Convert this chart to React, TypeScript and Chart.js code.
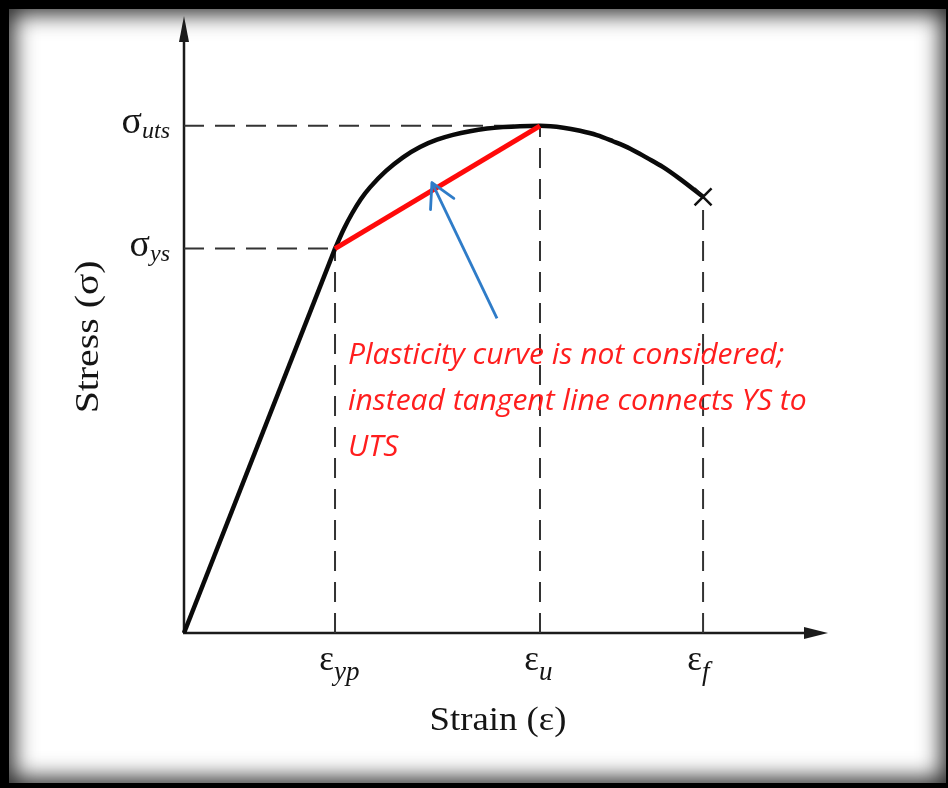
import React, { useEffect, useRef } from 'react';
import { Chart, registerables } from 'chart.js';

Chart.register(...registerables);

// ---- key values (arbitrary units: strain 0-100, stress 0-100) ----
const epsYP = 23.45;
const epsU = 55.28;
const epsF = 80.6;
const sigYS = 62.3;
const sigUTS = 82.2;
const sigF = 70.7;

// plastic curve (yield -> UTS -> fracture)
const curveStrain = [23.45, 24.84, 26.09, 27.48, 28.88, 31.37, 34.01, 36.65, 39.29, 41.77, 44.41, 47.05, 49.53, 52.17, 55.28, 58.9, 61.5, 64.1, 66.6, 69.3, 71.9, 74.4, 77.0, 80.6];
const curveStress = [62.3, 65.52, 67.99, 70.34, 72.22, 74.89, 77.1, 78.77, 79.95, 80.73, 81.33, 81.75, 81.99, 82.14, 82.2, 81.9, 81.4, 80.7, 79.7, 78.5, 77.0, 75.5, 73.6, 70.7];

// blue pointer arrow (tail -> head)
const arrowStrain = [48.6, 38.5];
const arrowStress = [51.0, 73.0];

const strainTickValues = [epsYP, epsU, epsF];
const strainTickSubs = ['yp', 'u', 'f'];
const stressTickValues = [sigUTS, sigYS];
const stressTickSubs = ['uts', 'ys'];

const xTitle = 'Strain (ε)';
const yTitle = 'Stress (σ)';
const noteLines = ['Plasticity curve is not considered;', 'instead tangent line connects YS to', 'UTS'];

const AXIS = '#1b1b1b';
const SERIF = '"Liberation Serif", "Times New Roman", serif';

const pts = (xs: number[], ys: number[]) => xs.map((x, i) => ({ x, y: ys[i] }));

const decor = {
  id: 'decor',
  beforeDatasetsDraw(chart: any) {
    const { ctx, scales } = chart;
    const x = scales.x, y = scales.y;
    const x0 = x.getPixelForValue(0), y0 = y.getPixelForValue(0);
    const xEnd = x.getPixelForValue(x.max), yEnd = y.getPixelForValue(y.max);
    ctx.save();
    ctx.strokeStyle = AXIS;
    ctx.fillStyle = AXIS;
    ctx.lineWidth = 2.5;
    ctx.beginPath();
    ctx.moveTo(x0, y0);
    ctx.lineTo(x0, yEnd + 18);
    ctx.moveTo(x0 - 1, y0);
    ctx.lineTo(xEnd - 18, y0);
    ctx.stroke();
    // arrowheads
    ctx.beginPath();
    ctx.moveTo(x0, yEnd);
    ctx.lineTo(x0 - 5, yEnd + 26);
    ctx.lineTo(x0 + 5, yEnd + 26);
    ctx.closePath();
    ctx.fill();
    ctx.beginPath();
    ctx.moveTo(xEnd, y0);
    ctx.lineTo(xEnd - 24, y0 - 6);
    ctx.lineTo(xEnd - 24, y0 + 6);
    ctx.closePath();
    ctx.fill();
    ctx.restore();
  },
  afterDraw(chart: any) {
    const { ctx, scales } = chart;
    const x = scales.x, y = scales.y;
    const x0 = x.getPixelForValue(0), y0 = y.getPixelForValue(0);
    ctx.save();
    ctx.fillStyle = '#151515';

    // stress tick labels (sigma)
    stressTickValues.forEach((v, i) => {
      const py = y.getPixelForValue(v);
      const right = x0 - 14;
      ctx.font = 'italic 24px ' + SERIF;
      const subW = ctx.measureText(stressTickSubs[i]).width;
      ctx.textAlign = 'left';
      ctx.textBaseline = 'alphabetic';
      ctx.fillText(stressTickSubs[i], right - subW, py + 12);
      ctx.font = '38px ' + SERIF;
      ctx.textAlign = 'right';
      ctx.fillText('σ', right - subW, py + 7);
    });

    // strain tick labels (epsilon)
    strainTickValues.forEach((v, i) => {
      const px = x.getPixelForValue(v);
      ctx.font = '35px ' + SERIF;
      ctx.textAlign = 'right';
      ctx.textBaseline = 'alphabetic';
      ctx.fillText('ε', px - 1, y0 + 37);
      ctx.font = 'italic 27px ' + SERIF;
      ctx.textAlign = 'left';
      ctx.fillText(strainTickSubs[i], px - 1, y0 + 47);
    });

    // axis titles
    ctx.font = '34px ' + SERIF;
    ctx.textAlign = 'center';
    ctx.textBaseline = 'alphabetic';
    ctx.save();
    ctx.translate((x0 + x.getPixelForValue(x.max)) / 2 - 8, y0 + 97);
    ctx.scale(1.08, 1);
    ctx.fillText(xTitle, 0, 0);
    ctx.restore();

    ctx.save();
    ctx.translate(x0 - 95, y.getPixelForValue(48));
    ctx.rotate(-Math.PI / 2);
    ctx.scale(1.17, 1);
    ctx.textBaseline = 'middle';
    ctx.fillText(yTitle, 0, 0);
    ctx.restore();

    // blue arrowhead
    const tx = x.getPixelForValue(arrowStrain[0]), ty = y.getPixelForValue(arrowStress[0]);
    const hx = x.getPixelForValue(arrowStrain[1]), hy = y.getPixelForValue(arrowStress[1]);
    const ang = Math.atan2(ty - hy, tx - hx);
    ctx.strokeStyle = '#2f7cc8';
    ctx.lineWidth = 2.8;
    ctx.lineCap = 'round';
    ctx.beginPath();
    [-0.5, 0.5].forEach((d) => {
      ctx.moveTo(hx, hy);
      ctx.lineTo(hx + 27 * Math.cos(ang + d), hy + 27 * Math.sin(ang + d));
    });
    ctx.stroke();

    // note text
    ctx.fillStyle = '#ff1e1e';
    ctx.font = 'italic 30px "Open Sans", "DejaVu Sans", sans-serif';
    ctx.textAlign = 'left';
    ctx.textBaseline = 'alphabetic';
    noteLines.forEach((t, i) => {
      ctx.fillText(t, x0 + 164, y0 - 269 + i * 46);
    });
    ctx.restore();
  },
};

const dash = (data: { x: number; y: number }[]) => ({
  data,
  showLine: true,
  borderColor: '#333',
  borderWidth: 2,
  borderDash: [20, 11],
  pointRadius: 0,
  tension: 0,
  clip: false as any,
  order: 5,
});

export default function App() {
  const ref = useRef<HTMLCanvasElement>(null);
  useEffect(() => {
    const chart = new Chart(ref.current!, {
      type: 'scatter',
      data: {
        datasets: [
          dash([{ x: 0, y: sigUTS }, { x: epsU, y: sigUTS }]),
          dash([{ x: 0, y: sigYS }, { x: epsYP, y: sigYS }]),
          dash([{ x: epsYP, y: 0 }, { x: epsYP, y: sigYS }]),
          dash([{ x: epsU, y: 0 }, { x: epsU, y: sigUTS }]),
          dash([{ x: epsF, y: 0 }, { x: epsF, y: sigF }]),
          {
            data: [{ x: 0, y: 0 }, { x: epsYP, y: sigYS }],
            showLine: true,
            borderColor: '#0a0a0a',
            borderWidth: 4.5,
            pointRadius: 0,
            clip: false as any,
            order: 2,
          },
          {
            data: pts(curveStrain, curveStress),
            showLine: true,
            borderColor: '#0a0a0a',
            borderWidth: 4.5,
            pointRadius: 0,
            cubicInterpolationMode: 'monotone',
            clip: false as any,
            order: 2,
          },
          {
            data: [{ x: epsF, y: sigF }],
            pointStyle: 'crossRot',
            pointRadius: 12,
            borderColor: '#111',
            borderWidth: 2.5,
            showLine: false,
            clip: false as any,
            order: 1,
          },
          {
            data: [{ x: epsYP, y: sigYS }, { x: epsU, y: sigUTS }],
            showLine: true,
            borderColor: '#ff0a0a',
            borderWidth: 5,
            pointRadius: 0,
            clip: false as any,
            order: 1,
          },
          {
            data: pts(arrowStrain, arrowStress),
            showLine: true,
            borderColor: '#2f7cc8',
            borderWidth: 2.8,
            pointRadius: 0,
            clip: false as any,
            order: 0,
          },
        ],
      },
      options: {
        responsive: false,
        animation: false,
        devicePixelRatio: 1,
        layout: { padding: { left: 184, right: 120, top: 16, bottom: 155 } },
        plugins: { legend: { display: false }, tooltip: { enabled: false } },
        scales: {
          x: { type: 'linear', min: 0, max: 100, display: false },
          y: { type: 'linear', min: 0, max: 100, display: false },
        },
      },
      plugins: [decor],
    });
    return () => chart.destroy();
  }, []);

  return (
    <div style={{ position: 'absolute', left: 0, top: 0, width: 948, height: 788, background: '#000', overflow: 'hidden' }}>
      <div
        style={{
          position: 'absolute',
          left: 9,
          top: 9,
          right: 2,
          bottom: 5,
          background: '#fff',
          boxShadow: 'inset 0 0 22px 5px rgba(0,0,0,0.85)',
        }}
      />
      <canvas
        ref={ref}
        width={948}
        height={788}
        style={{ position: 'absolute', left: 0, top: 0, width: 948, height: 788 }}
      />
    </div>
  );
}
